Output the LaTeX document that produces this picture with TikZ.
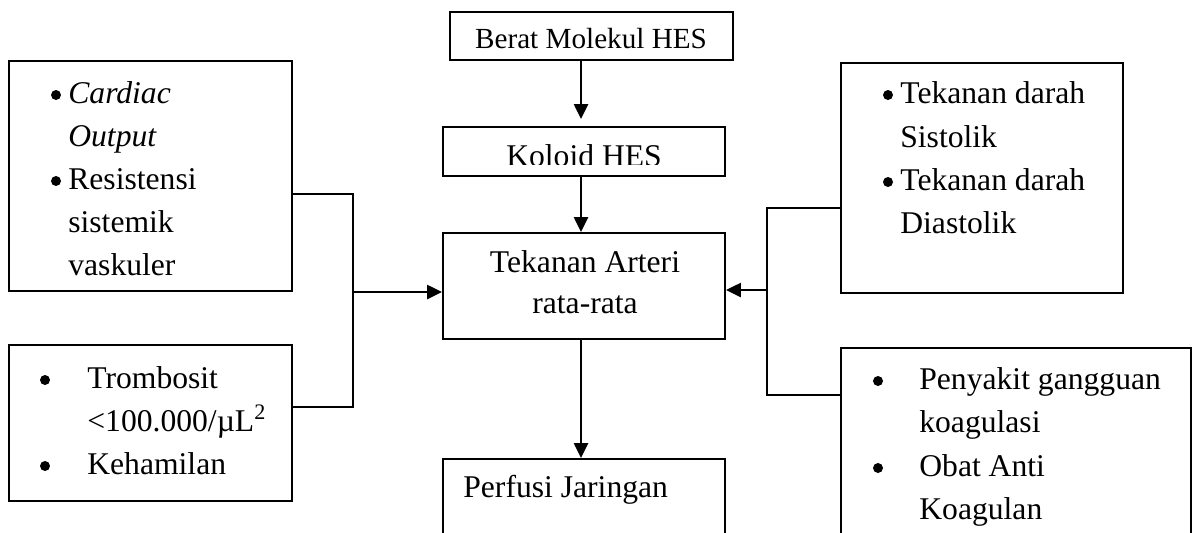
\documentclass[tikz,border=0pt]{standalone}
\usepackage{fontspec}
\setmainfont{Liberation Serif}
\usetikzlibrary{positioning}
\usetikzlibrary{arrows.meta}
\tikzstyle{box}=[draw,line width=1.1pt,inner sep=0pt]
\tikzstyle{txt}=[anchor=base west,inner sep=0pt,font=\fontsize{18}{21}\selectfont]
\tikzstyle{ctxt}=[anchor=base,inner sep=0pt,font=\fontsize{18}{21}\selectfont]
\tikzstyle{dot}=[circle,fill=black,inner sep=0pt,minimum size=0.2cm]
\tikzstyle{edge} = [draw,line width=1.4pt,-{Triangle[length=0.3cm,width=0.28cm]}]
\tikzstyle{link} = [draw,line width=1.1pt]

\begin{document}
\begin{tikzpicture}[x=0.02cm,y=-0.02cm]

 \def\u{0.02cm};
 \useasboundingbox (0,0) rectangle (1193,532);

  % boxes
  \foreach \x/\y/\w/\h/\name in { 591.5/36/283/48/mol, 584/151.5/282/49/kol, 584/286/282/106/map, 584/509.5/282/101/perf,
        150.5/176/283/230/cardiac, 150.5/423/283/156/trombo, 982/178/282/230/darah, 1016/454/350/212/koag}
          \node[box, minimum width=\w*\u, minimum height=\h*\u] (\name) at (\x,\y) {};

  \node[ctxt, font=\fontsize{16.6}{20}\selectfont] (molt) at (591,48) {Berat Molekul HES};
  \begin{scope}
    \clip (443,127) rectangle (725,164.5);
    \node[ctxt] (kolt) at (584,166) {Koloid HES};
  \end{scope}
  \node[ctxt] (mapa) at (585,272) {Tekanan Arteri};
  \node[ctxt] (mapb) at (585,313) {rata-rata};
  \node[txt] (perft) at (463,497) {Perfusi Jaringan};

  \foreach \x/\y/\name/\label in { 68/103/co1/{\textit{Cardiac}}, 68/146/co2/{\textit{Output}}, 68/189/rs1/Resistensi,
        68/232/rs2/sistemik, 68/275/rs3/vaskuler, 87/388/tr1/Trombosit, 87/431/tr2/{<100.000/µL\textsuperscript{2}},
        87/474/hm/Kehamilan, 900/103/sis1/Tekanan darah, 900/147/sis2/Sistolik, 900/190/dia1/Tekanan darah,
        900/233/dia2/Diastolik, 919/389/pk1/Penyakit gangguan, 919/432/pk2/koagulasi, 919/476/ob1/Obat Anti, 919/519/ob2/Koagulan}
          \node[txt] (\name) at (\x,\y) {\label};

  % bullets sit 8px above the baseline
  \foreach \x/\y/\name in { 56/103/b1, 56/189/b2, 45/388/b3, 45/474/b4, 888/103/b5, 888/190/b6, 878/389/b7, 878/476/b8}
          \node[dot] (\name) at (\x,\y-8) {};

  \coordinate (lj) at (353,292);
  \coordinate (rj) at (767,290);
  \coordinate (ax) at (581,0);

  \draw[link] (cardiac.east |- 0,194) -| (lj) |- (trombo.east |- 0,407);
  \draw[edge] (lj) -- (map.west |- lj);
  \draw[link] (darah.west |- 0,208) -| (rj) |- (koag.west |- 0,395);
  \draw[edge] (rj) -- (map.east |- rj);

  \draw[edge, shorten >=0.14cm] (mol.south -| ax) -- (kol.north -| ax);
  \draw[edge] (kol.south -| ax) -- (map.north -| ax);
  \draw[edge] (map.south -| ax) -- (perf.north -| ax);

\end{tikzpicture}
\end{document}
